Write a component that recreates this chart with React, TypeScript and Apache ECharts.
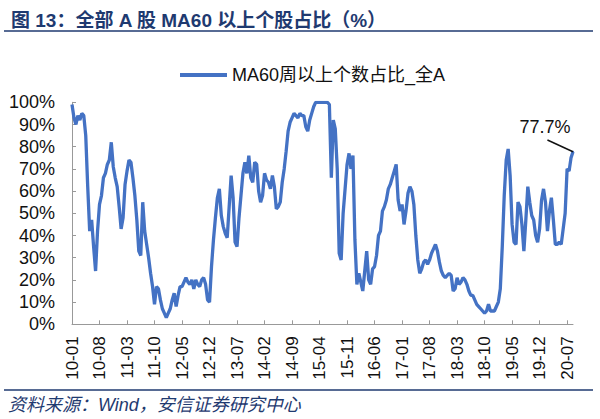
import React, { useEffect, useRef } from "react";
import * as echarts from "echarts";

const TITLE = "图 13：全部 A 股 MA60 以上个股占比（%）";
const SERIES_NAME = "MA60周以上个数占比_全A";
const SOURCE = "资料来源：Wind，安信证券研究中心";
const LAST_LABEL = "77.7%";

// half-month sampling from 2010-01 (first half) onwards
const START_YEAR = 2010;
const TICK_EVERY = 14; // one tick label every 7 months

const MA60_SHARE: number[] = [
  99, 93, 90, 94, 92, 95, 94, 85, 62, 42,
  47, 35, 24, 42, 54, 58, 66, 68, 72, 74,
  82, 71, 66, 62, 53, 43, 48, 63, 69, 74,
  73, 66, 58, 47, 33, 31, 55, 42, 36, 30,
  23, 17, 9, 17, 16, 11, 7, 5, 3, 5,
  7, 11, 14, 8, 13, 17, 17, 19, 21, 19,
  18, 20, 16, 20, 18, 17, 20, 21, 18, 11,
  10, 26, 38, 48, 57, 61, 49, 44, 41, 39,
  53, 67, 57, 37, 35, 48, 58, 68, 73, 68,
  76, 66, 64, 73, 72, 60, 55, 58, 68, 65,
  64, 61, 67, 62, 52, 53, 55, 64, 70, 78,
  87, 91, 93, 95, 94, 93, 95, 94, 94, 89,
  87, 92, 95, 98, 100, 100, 100, 100, 100, 100,
  100, 99, 66, 92, 88, 70, 32, 29, 50, 61,
  72, 77, 70, 76, 38, 18, 23, 19, 15, 24,
  33, 20, 18, 25, 26, 31, 40, 42, 51, 53,
  56, 61, 63, 66, 69, 72, 56, 51, 54, 45,
  51, 59, 62, 60, 54, 40, 29, 23, 25, 28,
  29, 27, 29, 32, 34, 36, 33, 28, 24, 22,
  21, 22, 23, 22, 15, 16, 21, 18, 19, 21,
  20, 18, 15, 13, 13, 11, 9, 8, 7, 6,
  5, 6, 9, 6, 6, 6, 8, 10, 16, 35,
  58, 74, 79, 67, 45, 37, 36, 55, 53, 45,
  33, 47, 62, 55, 49, 47, 40, 37, 43, 56,
  61, 55, 42, 51, 57, 47, 36, 36, 37, 36,
  43, 50, 70, 69, 75, 77.7,
];

// callout: leader line runs from the last point back to beneath the label
const CALLOUT_BACK_STEPS = 13;
const CALLOUT_RISE = 5.3;

function pad(n: number) {
  return n < 10 ? "0" + n : String(n);
}

const CATEGORIES: string[] = MA60_SHARE.map((_, i) => {
  const month = Math.floor(i / 2);
  const y = START_YEAR + Math.floor(month / 12);
  const m = (month % 12) + 1;
  return `${String(y).slice(2)}-${pad(m)}-${i % 2 ? "16" : "01"}`;
});

const FONT = "'Liberation Sans', Arial, 'Noto Sans CJK SC', sans-serif";
const NAVY = "#1f3a70";
const LINE_BLUE = "#4472c4";

export default function App() {
  const ref = useRef<HTMLDivElement>(null);

  useEffect(() => {
    document.body.style.margin = "0";
    if (!ref.current) return;
    const chart = echarts.init(ref.current, undefined, { renderer: "svg" });

    const lastIdx = MA60_SHARE.length - 1;
    const lastVal = MA60_SHARE[lastIdx];
    const seriesData = MA60_SHARE.map((v, i) =>
      i === lastIdx
        ? {
            value: v,
            symbol: "circle",
            symbolSize: 2,
            label: {
              show: true,
              position: "top",
              distance: 5,
              formatter: LAST_LABEL,
              fontSize: 18,
              color: "#111",
              fontFamily: FONT,
            },
          }
        : v
    );

    chart.setOption({
      animation: false,
      backgroundColor: "#ffffff",
      title: {
        text: TITLE,
        left: 6,
        top: 6,
        textStyle: {
          fontSize: 19,
          fontWeight: "bold",
          color: NAVY,
          fontFamily: FONT,
        },
      },
      legend: {
        left: 175,
        top: 61,
        icon: "rect",
        itemWidth: 47,
        itemHeight: 4,
        itemGap: 5,
        textStyle: { fontSize: 18, color: "#111", fontFamily: FONT },
        data: [{ name: SERIES_NAME, itemStyle: { color: LINE_BLUE } }],
      },
      grid: {
        left: 72,
        right: 27,
        top: 102.3,
        bottom: 94.7,
        outerBoundsMode: "none",
      },
      xAxis: {
        type: "category",
        data: CATEGORIES,
        boundaryGap: false,
        axisLine: { show: true, lineStyle: { color: "#999", width: 1 } },
        axisTick: {
          show: true,
          inside: true,
          length: 4,
          interval: (idx: number) => idx % TICK_EVERY === 0,
          lineStyle: { color: "#999" },
        },
        axisLabel: {
          interval: (idx: number) => idx % TICK_EVERY === 0,
          rotate: 90,
          margin: 12,
          fontSize: 17,
          color: "#111",
          fontFamily: FONT,
          formatter: (v: string) => v.slice(0, 5),
        },
        splitLine: { show: false },
      },
      yAxis: {
        type: "value",
        min: 0,
        max: 100,
        interval: 10,
        axisLine: { show: true, lineStyle: { color: "#999", width: 1 } },
        axisTick: { show: true, inside: true, length: 4, lineStyle: { color: "#999" } },
        splitLine: { show: false },
        axisLabel: {
          formatter: "{value}%",
          fontSize: 18,
          color: "#111",
          margin: 17,
          fontFamily: FONT,
        },
      },
      series: [
        {
          name: SERIES_NAME,
          type: "line",
          data: seriesData,
          symbol: "none",
          showSymbol: true,
          showAllSymbol: true,
          lineStyle: { color: LINE_BLUE, width: 3.3 },
          itemStyle: { color: LINE_BLUE },
          labelLayout: { dx: -28, dy: -10 },
          emphasis: { disabled: true },
          markLine: {
            silent: true,
            symbol: "none",
            label: { show: false },
            lineStyle: { color: "#111", width: 1.5, type: "solid" },
            data: [
              [
                { coord: [CATEGORIES[lastIdx], lastVal] },
                {
                  coord: [
                    CATEGORIES[lastIdx - CALLOUT_BACK_STEPS],
                    lastVal + CALLOUT_RISE,
                  ],
                },
              ],
            ],
          },
        },
      ],
      graphic: [
        {
          type: "line",
          shape: { x1: 4, y1: 31, x2: 593, y2: 31 },
          style: { stroke: NAVY, lineWidth: 1.3 },
        },
        {
          type: "line",
          shape: { x1: 4, y1: 390, x2: 593, y2: 390 },
          style: { stroke: NAVY, lineWidth: 1.3 },
        },
        {
          type: "text",
          x: 8,
          y: 405,
          style: {
            text: SOURCE,
            fontSize: 18,
            fontStyle: "italic",
            fill: NAVY,
            fontFamily: FONT,
            verticalAlign: "middle",
          },
        },
      ],
    });

    return () => chart.dispose();
  }, []);

  return <div ref={ref} style={{ width: 600, height: 419 }} />;
}
